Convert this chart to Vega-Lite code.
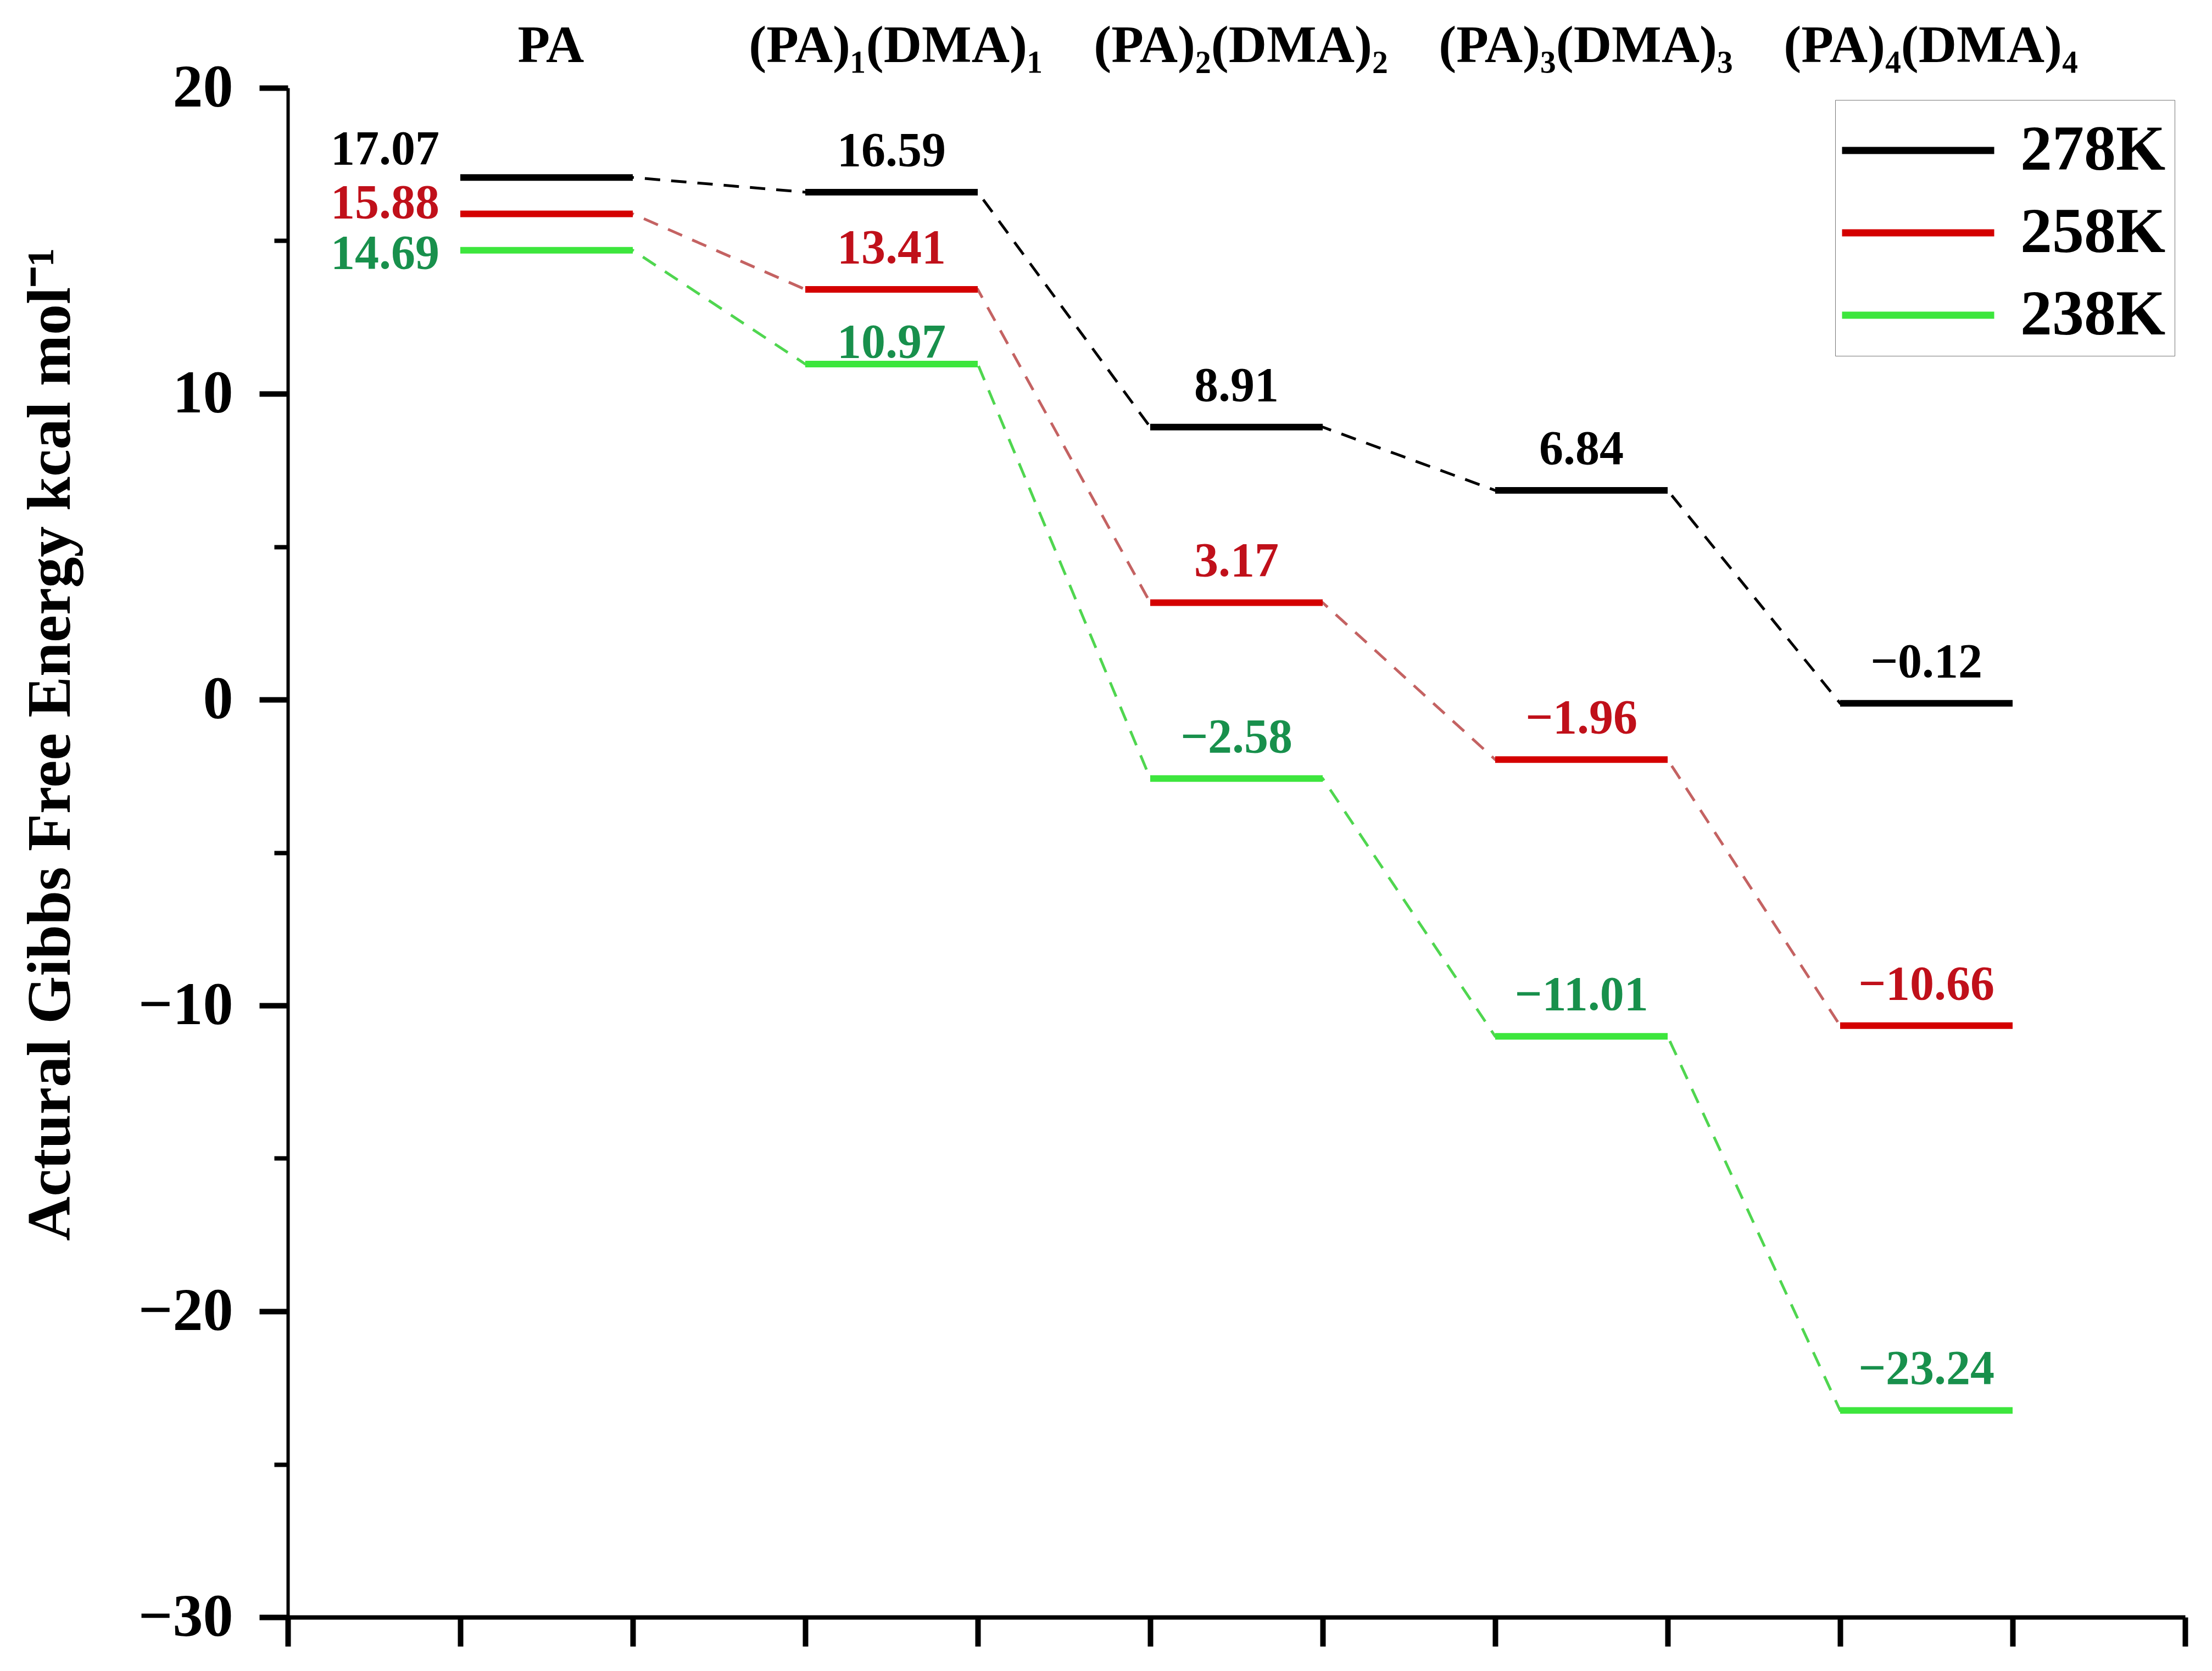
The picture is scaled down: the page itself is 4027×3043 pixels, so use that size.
{
  "$schema": "https://vega.github.io/schema/vega-lite/v6.json",
  "width": 3454,
  "height": 2785,
  "autosize": {"type": "none"},
  "padding": {"left": 524, "top": 160, "right": 49, "bottom": 98},
  "background": "white",
  "config": {
    "view": {"stroke": null},
    "font": "Liberation Serif",
    "text": {"font": "Liberation Serif", "fontWeight": "bold"}
  },
  "datasets": {
    "levels": [
      {"stage": "PA", "T": "278K", "G": 17.07, "x0": 1, "x1": 2},
      {"stage": "(PA)₁(DMA)₁", "T": "278K", "G": 16.59, "x0": 3, "x1": 4},
      {"stage": "(PA)₂(DMA)₂", "T": "278K", "G": 8.91, "x0": 5, "x1": 6},
      {"stage": "(PA)₃(DMA)₃", "T": "278K", "G": 6.84, "x0": 7, "x1": 8},
      {"stage": "(PA)₄(DMA)₄", "T": "278K", "G": -0.12, "x0": 9, "x1": 10},
      {"stage": "PA", "T": "258K", "G": 15.88, "x0": 1, "x1": 2},
      {"stage": "(PA)₁(DMA)₁", "T": "258K", "G": 13.41, "x0": 3, "x1": 4},
      {"stage": "(PA)₂(DMA)₂", "T": "258K", "G": 3.17, "x0": 5, "x1": 6},
      {"stage": "(PA)₃(DMA)₃", "T": "258K", "G": -1.96, "x0": 7, "x1": 8},
      {"stage": "(PA)₄(DMA)₄", "T": "258K", "G": -10.66, "x0": 9, "x1": 10},
      {"stage": "PA", "T": "238K", "G": 14.69, "x0": 1, "x1": 2},
      {"stage": "(PA)₁(DMA)₁", "T": "238K", "G": 10.97, "x0": 3, "x1": 4},
      {"stage": "(PA)₂(DMA)₂", "T": "238K", "G": -2.58, "x0": 5, "x1": 6},
      {"stage": "(PA)₃(DMA)₃", "T": "238K", "G": -11.01, "x0": 7, "x1": 8},
      {"stage": "(PA)₄(DMA)₄", "T": "238K", "G": -23.24, "x0": 9, "x1": 10}
    ]
  },
  "data": {"name": "levels"},
  "layer": [
    {
      "transform": [{"fold": ["x0", "x1"], "as": ["end", "x"]}],
      "mark": {"type": "line", "strokeDash": [28, 20], "strokeWidth": 5},
      "encoding": {
        "x": {
          "field": "x", "type": "quantitative",
          "scale": {"domain": [0, 11], "nice": false, "zero": false},
          "axis": {
            "values": [0, 1, 2, 3, 4, 5, 6, 7, 8, 9, 10, 11],
            "labels": false, "title": null, "grid": false,
            "tickSize": 53, "tickWidth": 10, "tickColor": "black",
            "domainWidth": 8, "domainColor": "black"
          }
        },
        "y": {
          "field": "G", "type": "quantitative",
          "scale": {"domain": [-30, 20], "nice": false, "zero": false},
          "axis": {
            "orient": "left",
            "values": [15, 5, -5, -15, -25],
            "labels": false, "title": null, "grid": false, "domain": false,
            "tickSize": 25, "tickWidth": 8, "tickColor": "black"
          }
        },
        "detail": {"field": "T", "type": "nominal"},
        "stroke": {
          "condition": [
            {"test": "datum.T === '258K'", "value": "#c46262"},
            {"test": "datum.T === '238K'", "value": "#4fd64f"}
          ],
          "value": "#000000"
        }
      }
    },
    {
      "mark": {"type": "rule", "strokeWidth": 12},
      "encoding": {
        "x": {"field": "x0", "type": "quantitative"},
        "x2": {"field": "x1"},
        "y": {
          "field": "G", "type": "quantitative",
          "axis": {
            "orient": "left",
            "values": [20, 10, 0, -10, -20, -30],
            "grid": false,
            "tickSize": 52, "tickWidth": 10, "tickColor": "black",
            "domainWidth": 6, "domainColor": "black",
            "labelFont": "Liberation Serif", "labelFontWeight": "bold",
            "labelFontSize": 110, "labelColor": "black", "labelPadding": 48,
            "labelFlush": false, "labelOverlap": false,
            "title": "Actural Gibbs Free Energy kcal mol⁻¹",
            "titleFont": "Liberation Serif", "titleFontWeight": "bold",
            "titleFontSize": 112, "titleColor": "black",
            "titleX": -398, "titleY": 1195, "titleBaseline": "alphabetic"
          }
        },
        "color": {
          "field": "T", "type": "nominal",
          "scale": {"domain": ["278K", "258K", "238K"], "range": ["#000000", "#d40000", "#3de63d"]},
          "legend": {
            "orient": "none", "legendX": 2817, "legendY": 22,
            "title": null, "symbolType": "M-2,0L2,0",
            "symbolSize": 19182, "symbolStrokeWidth": 13,
            "symbolOffset": 59,
            "labelFont": "Liberation Serif", "labelFontWeight": "bold",
            "labelFontSize": 116, "labelColor": "black", "labelLimit": 0,
            "labelOffset": 110, "rowPadding": 16, "padding": 16,
            "strokeColor": "#777777", "fillColor": "white"
          }
        }
      }
    },
    {
      "transform": [{"filter": "datum.stage !== 'PA' && datum.G !== 10.97"}],
      "mark": {"type": "text", "dx": 157, "dy": -48, "baseline": "alphabetic", "align": "center", "fontSize": 88},
      "encoding": {
        "x": {"field": "x0", "type": "quantitative"},
        "y": {"field": "G", "type": "quantitative", "axis": null},
        "text": {"field": "G", "type": "quantitative", "format": ".2f"},
        "fill": {
          "condition": [
            {"test": "datum.T === '258K'", "value": "#c0101a"},
            {"test": "datum.T === '238K'", "value": "#18904c"}
          ],
          "value": "#000000"
        }
      }
    },
    {
      "transform": [{"filter": "datum.G === 10.97"}],
      "mark": {"type": "text", "dx": 157, "dy": -12, "baseline": "alphabetic", "align": "center", "fontSize": 88, "color": "#18904c"},
      "encoding": {
        "x": {"field": "x0", "type": "quantitative"},
        "y": {"field": "G", "type": "quantitative", "axis": null},
        "text": {"field": "G", "type": "quantitative", "format": ".2f"}
      }
    },
    {
      "transform": [{"filter": "datum.stage === 'PA' && datum.T === '278K'"}],
      "mark": {"type": "text", "dx": -38, "dy": -24, "baseline": "alphabetic", "align": "right", "fontSize": 88, "color": "#000000"},
      "encoding": {
        "x": {"field": "x0", "type": "quantitative"},
        "y": {"field": "G", "type": "quantitative", "axis": null},
        "text": {"field": "G", "type": "quantitative", "format": ".2f"}
      }
    },
    {
      "transform": [{"filter": "datum.stage === 'PA' && datum.T === '258K'"}],
      "mark": {"type": "text", "dx": -38, "dy": 8, "baseline": "alphabetic", "align": "right", "fontSize": 88, "color": "#c0101a"},
      "encoding": {
        "x": {"field": "x0", "type": "quantitative"},
        "y": {"field": "G", "type": "quantitative", "axis": null},
        "text": {"field": "G", "type": "quantitative", "format": ".2f"}
      }
    },
    {
      "transform": [{"filter": "datum.stage === 'PA' && datum.T === '238K'"}],
      "mark": {"type": "text", "dx": -38, "dy": 33, "baseline": "alphabetic", "align": "right", "fontSize": 88, "color": "#18904c"},
      "encoding": {
        "x": {"field": "x0", "type": "quantitative"},
        "y": {"field": "G", "type": "quantitative", "axis": null},
        "text": {"field": "G", "type": "quantitative", "format": ".2f"}
      }
    },
    {
      "transform": [{"filter": "datum.T === '278K'"}],
      "mark": {"type": "text", "dx": 165, "dy": -47, "baseline": "alphabetic", "align": "center", "fontSize": 96, "color": "black"},
      "encoding": {
        "x": {"field": "x0", "type": "quantitative"},
        "y": {"datum": 20, "type": "quantitative", "axis": null},
        "text": {"field": "stage", "type": "nominal"}
      }
    }
  ],
  "resolve": {"axis": {"y": "independent"}}
}
